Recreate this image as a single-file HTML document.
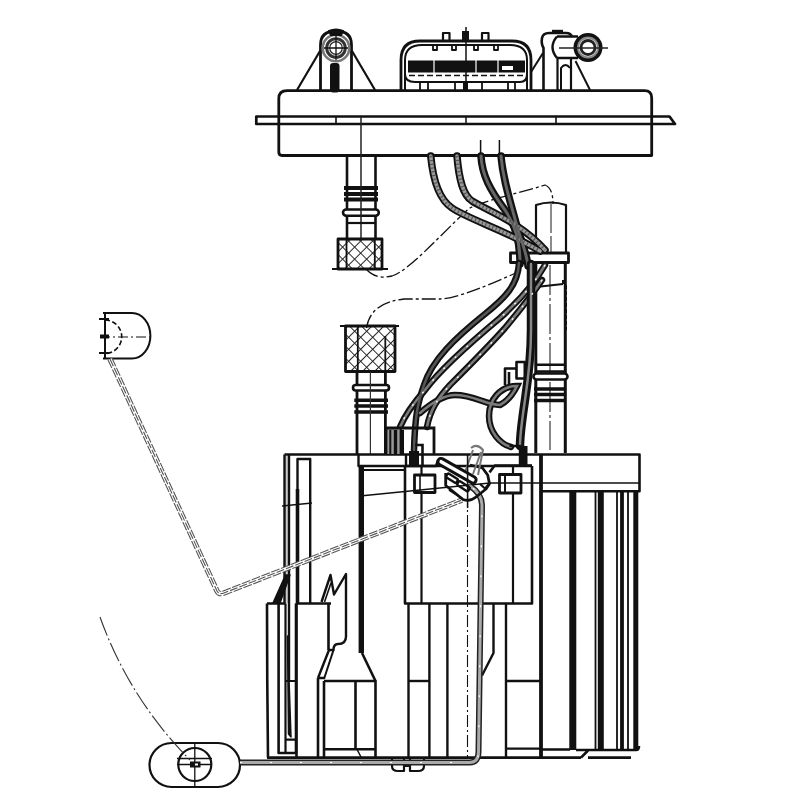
<!DOCTYPE html>
<html><head><meta charset="utf-8"><style>
html,body{margin:0;padding:0;background:#fff;width:800px;height:800px;overflow:hidden;font-family:"Liberation Sans",sans-serif;}
svg{display:block}
</style></head><body>
<svg width="800" height="800" viewBox="0 0 800 800">
<defs>
<pattern id="mesh" width="8.5" height="8.5" patternUnits="userSpaceOnUse" patternTransform="rotate(45)">
<path d="M0 0 H8.5 M0 0 V8.5" stroke="#222" stroke-width="2" fill="none"/>
</pattern>
</defs>
<rect width="800" height="800" fill="#fff"/>
<g fill="none" stroke="#111" stroke-width="2.6" stroke-linejoin="round">
<!-- FLANGE -->
<path d="M287 90.7 H644.5 Q651.7 90.7 651.7 98 V155.5 H282 Q278.8 155.5 278.8 152 V98.7 Q278.8 90.7 287 90.7 Z" stroke-width="2.8"/>
<path d="M256.3 116.5 H669.5 L675 124 H256.3 Z" stroke-width="2.7"/>
<path d="M336 117 V124 M556 117 V124" stroke-width="1.6"/>
<!-- center lines through flange -->
<path d="M466 27 V90 M466 117 V124" stroke-width="1.5"/>
<path d="M480.6 140 V156 M499.4 140 V156" stroke-width="1.5"/>
<!-- left bracket -->
<path d="M297 90 L320 51 M375 90 L352 51" stroke-width="2.2"/>
<path d="M320.5 90 V45 Q320.5 31 336 31 Q351.5 31 351.5 45 V90" stroke-width="2.8"/>
<circle cx="336" cy="48" r="13.3" stroke="#777" stroke-width="2.6"/>
<circle cx="336" cy="48" r="9.3" stroke="#333" stroke-width="3"/>
<circle cx="336" cy="48" r="6.3" stroke="#222" stroke-width="1.2"/>
<path d="M324 48 H348 M336 36 V60" stroke-width="1.3"/>
<path d="M329 31 Q336 28 343 31 L341 35 H331 Z" fill="#111" stroke-width="2"/>
<rect x="330" y="63" width="9.5" height="29.5" rx="3" fill="#111" stroke="none"/>
<!-- center connector -->
<path d="M401 90 V60 Q401 41 420 41 H512 Q531 41 531 60 V90" stroke-width="2.8"/>
<path d="M405 90 V74 Q405 82 415 82 H520 Q527 82 527 74 V90" stroke-width="2"/>
<path d="M405 74 V60 Q405 45 422 45 H510 Q527 45 527 60 V74" stroke-width="2"/>
<rect x="408" y="60.5" width="117" height="12" fill="#111" stroke="none"/>
<rect x="502" y="66" width="11" height="4" fill="#fff" stroke="none"/>
<path d="M434 60 V73 M476 60 V73 M498 60 V73" stroke="#fff" stroke-width="1.2"/>
<path d="M409 75.5 H525" stroke-width="1.3" stroke-dasharray="6 3"/>
<path d="M433 46 V50 H437 V46 M452 46 V50 H456 V46 M474 46 V50 H478 V46 M494 46 V50 H498 V46" stroke-width="1.8"/>
<path d="M443 41 V33 H449.5 V41" stroke-width="2.2"/>
<rect x="462" y="31" width="7" height="10" fill="#111" stroke="none"/>
<path d="M482 41 V33 H488.5 V41" stroke-width="2.2"/>
<path d="M420 82 V90 M428 82 V90 M455 82 V90 M482 82 V90 M508 82 V90 M515 82 V90" stroke-width="1.8"/>
<rect x="463" y="82" width="5" height="9" fill="#111" stroke="none"/>
<!-- right connector -->
<path d="M543.5 90 V48 Q541 44 542 38 Q543 33 549 33 H566 Q571 33 572 37" stroke-width="2.6"/>
<path d="M552 31 H563" stroke-width="2.4"/>
<path d="M557.5 58 V90 M571 58 V90" stroke-width="2.2"/>
<path d="M561 90 V68 Q565.5 62 570 68" stroke-width="2"/>
<path d="M543 53 L531 72" stroke-width="2"/>
<path d="M575.5 61 L590 90" stroke-width="2"/>
<path d="M557 36.5 H578 M557 58 H578" stroke-width="2.6"/>
<path d="M557 36.5 Q548 47 557 58" stroke-width="2.4"/>
<circle cx="588" cy="47.5" r="12.5" stroke-width="4"/>
<circle cx="588" cy="47.5" r="10" stroke="#888" stroke-width="2"/>
<circle cx="588" cy="47.5" r="7" stroke="#222" stroke-width="2.8"/>
<path d="M559 48 H608" stroke-width="1.3" stroke="#222"/>
<!-- LEFT PIPE upper -->
<path d="M347 156 V239 M375.5 156 V239"/>
<path d="M344 188 H378 M344 194 H378 M344 199.5 H378" stroke-width="3.8"/>
<rect x="343" y="209.5" width="35.8" height="6.2" rx="3.1" fill="#fff" stroke-width="2.6"/>
<path d="M361 117 V240" stroke-width="1.5" stroke="#222"/>
<path d="M347 223 H375.5" stroke-width="2.2"/>
<rect x="338" y="239" width="44" height="30" fill="url(#mesh)" stroke-width="2.8"/>
<path d="M346.5 240 V268 M374.8 240 V268" stroke-width="1.8"/>
<path d="M332 269 H388" stroke-width="2.2"/>
<!-- RIGHT TUBE -->
<path d="M536 253 V205 Q551 200 566 205 V253" stroke-width="2.2"/>
<path d="M551 203 V253" stroke-width="1.5" stroke="#666" stroke-dasharray="30 3"/>
<rect x="510.5" y="253" width="58" height="9.5" stroke-width="2.8"/>
<path d="M535.8 262.5 V453 M565.3 262.5 V453" stroke-width="3"/>
<path d="M550 265 V450" stroke-width="1.4" stroke="#555" stroke-dasharray="30 3 3 3"/>
<path d="M536 287 L563 284" stroke-width="2"/>
<path d="M563 280 V284 M566 285 V330" stroke-width="2" stroke-dasharray="4 2"/>
<path d="M536 364.8 H565.5 M536 371.5 H565.5" stroke-width="2.6"/>
<rect x="533.5" y="373.5" width="34" height="6" rx="3" fill="#fff" stroke-width="2.6"/>
<path d="M534 389 H566 M534 394.5 H566 M534 400.5 H566" stroke-width="3.4"/>
<!-- small connector on tube -->
<rect x="516.5" y="362" width="8.3" height="16.5" stroke-width="2.6"/>
<path d="M516.5 368.5 H505 V385 M509 372 V385 M524.8 368.5 H533" stroke-width="2.6"/>
<!-- LOWER PIPE -->
<rect x="345.5" y="326" width="49.5" height="45.5" fill="url(#mesh)" stroke-width="2.8"/>
<path d="M357.8 327 V370 M385.3 336 V370" stroke-width="1.8"/>
<path d="M340 326 H399" stroke-width="2.2"/>
<path d="M357 371.5 V454 M385.4 371.5 V454" stroke-width="2.8"/>
<rect x="353" y="385" width="36" height="5.5" rx="2.75" fill="#fff" stroke-width="2.6"/>
<path d="M354.3 400.3 H388 M354.3 406 H388 M354.3 412 H388" stroke-width="3.6"/>
<path d="M370.4 372 V454" stroke-width="1.2" stroke="#333"/>
<!-- MAIN BODY -->
<path d="M284.5 454.5 H639.5 V491.3 H541"/>
<path d="M541 454.5 V757" stroke-width="3.8"/>
<rect x="285" y="456" width="3.6" height="147" fill="#ccc" stroke="none"/>
<path d="M284.5 454.5 V603.5 M289 454.5 V681" stroke-width="2.4"/>
<path d="M297.5 603.5 V459 H310.2 V603.5" stroke-width="2.4"/>
<path d="M361.3 467 V653" stroke-width="5.4"/>
<path d="M358.5 454.5 V466 H405 M406 466 V454.5" stroke-width="2.4"/>
<path d="M363 470 H405" stroke-width="2.2"/>
<path d="M405 466 V603.5 H532 V466 M405 466 H532" stroke-width="2.6"/>
<path d="M421.5 466 V603.5 M513 466 V603.5" stroke-width="2.2"/>
<rect x="414.5" y="475" width="20.5" height="17.5" fill="#fff" stroke-width="2.8"/>
<path d="M420 475 V492.5" stroke-width="1.6"/>
<rect x="499.5" y="474.5" width="21.5" height="18.5" fill="#fff" stroke-width="2.8"/>
<path d="M505 475 V493" stroke-width="2"/>
<path d="M490 483 H639" stroke-width="1.6"/>
<path d="M467.5 455 V757" stroke-width="1.1" stroke-dasharray="12 3 2 3"/>
<!-- thin lines across body from float arm -->
<path d="M360 496 L490 483" stroke-width="1.5"/>
<path d="M282 506 L312 503" stroke-width="1.3"/>
<!-- right bars -->
<path d="M572.8 491 V750" stroke-width="7"/>
<path d="M600.8 491 V750" stroke-width="6"/>
<path d="M595.5 491 V750 M617 491 V750 M628 491 V750" stroke-width="1.8"/>
<path d="M622 491 V750" stroke-width="3.8"/>
<path d="M635.8 491 V750" stroke-width="5"/>
<path d="M541 749.5 H570 M576 750 H636 Q639 750 639 746" stroke-width="2.6"/>
<path d="M581 757.6 L588 750.5 M588 757.6 H631" stroke-width="2.6"/>
<!-- lower body left -->
<path d="M267 603.5 H285.5 M267 603.5 Q267 680 268 757.6 M278.6 603.5 V753 H296 V603.5" stroke-width="2.6"/>
<path d="M297.5 489 V603.5" stroke-width="3.6"/>
<path d="M285.5 603.5 V753 M285.5 681 H296 M285.5 739.6 H296" stroke-width="2.2"/>
<path d="M273 603 L285.5 575 L290 575 L280 603 Z" fill="#111" stroke-width="1.5"/>
<path d="M287.5 636 L288.5 734 L291 737 Z" fill="#111" stroke-width="1.5"/>
<path d="M296 603.5 H331 M296.5 603.5 V757.6 M328.5 603.5 V650" stroke-width="2.6"/>
<path d="M321.5 602 L330.5 575 L334 594.5 L346 574 V636.5 Q346 644 338 644 Q333.5 644 333.5 650 H329 L318 678" stroke-width="2.4"/>
<path d="M324.5 602 L331 583" stroke-width="1.6"/>
<path d="M318 678 V757.6 M324 681 V757.6" stroke-width="2.6"/>
<path d="M333.5 650 L324 679" stroke-width="2"/>
<path d="M318 678 H324 M324 681 H375.5 V757.6 M355.5 681 V749 M324 749.3 H375.5" stroke-width="2.6"/>
<path d="M362 653 L375.5 681" stroke-width="2.6"/>
<path d="M357 749.3 L361 757" stroke-width="1.5"/>
<!-- lower body center/right -->
<path d="M408.5 603.5 V757.6 M429.4 603.5 V757.6 M447.4 603.5 V757.6" stroke-width="2.4"/>
<path d="M408.5 681 H429.4" stroke-width="2.4"/>
<path d="M493.5 603.5 V653 L482 675.5" stroke-width="2.4"/>
<path d="M506 603.5 V757.6 M506 681 H541 M506 748.6 H541" stroke-width="2.4"/>
<path d="M267 757.6 H581" stroke-width="2.6"/>
<!-- bottom tabs -->
<path d="M392 758 V766 Q392 771 398 771 H404 V758 M410 758 V771 H418 Q424 771 424 766 V758" stroke-width="2.2"/>
<path d="M404 766 H410" stroke-width="2"/>
<!-- FLOAT TOP -->
<path d="M103 313 H132 A18.4 22.8 0 0 1 132 358.6 H103" stroke-width="2"/>
<path d="M105 313 V358.6" stroke-width="2"/>
<path d="M100 337 H150" stroke-width="1.2" stroke-dasharray="10 3 2 3"/>
<path d="M105 320 A16.6 16.6 0 0 1 105 353.5" stroke-width="1.6" stroke-dasharray="5 2.5"/>
<path d="M99 319 H109 M99 353 H109" stroke-width="1.8"/>
<rect x="100" y="334.5" width="9" height="4" fill="#111" stroke="none"/>
<!-- FLOAT ARM -->
<path d="M110 359 L217 591 Q219 595 224 593 L462 500" stroke-width="5.4" stroke="#555" stroke-dasharray="9 1.5"/>
<path d="M110 359 L217 591 Q219 595 224 593 L462 500" stroke-width="3.2" stroke="#fff"/>
<path d="M110 359 L217 591 Q219 595 224 593 L462 500" stroke-width="1.1" stroke="#555" stroke-dasharray="8 2"/>
<!-- FLOAT BOTTOM -->
<path d="M171.5 743 H218 A22 22 0 0 1 218 787 H171.5 A22 22 0 0 1 171.5 743 Z" stroke-width="2.2"/>
<circle cx="194.8" cy="764.5" r="16.5" stroke-width="2.2"/>
<path d="M177 758.5 H212 M177 764.5 H212 M194.8 744 V786" stroke-width="1.3"/>
<rect x="190" y="761.5" width="10.5" height="6" fill="#111" stroke="none"/>
<rect x="195" y="763.5" width="3" height="2" fill="#fff" stroke="none"/>
<path d="M240 762.5 H470 Q478.5 762 478.5 752 L482 505 Q482 494 469.5 485.5" stroke-width="6" stroke="#222"/>
<path d="M240 762.5 H470 Q478.5 762 478.5 752 L482 505 Q482 494 469.5 485.5" stroke-width="3" stroke="#aaa"/>
<path d="M240 762.5 H470 Q478.5 762 478.5 752 L482 505 Q482 494 469.5 485.5" stroke-width="1.2" stroke="#fff" stroke-dasharray="2 28"/>
<!-- ARC -->
<path d="M100 617 A388 388 0 0 0 190 760" stroke-width="1.1" stroke="#333" stroke-dasharray="20 3 2 3"/>
<!-- dashed curves near hoses -->
<path d="M366 269 Q376 280 392 276 C410 270 440 235 469 208.5 C485 200 520 193 545 185 Q553 188 553 204" stroke-width="1.3" stroke-dasharray="14 3 3 3"/>
<path d="M366.6 328 Q370 303 404 299 H440 C455 299 490 285 520 271" stroke-width="1.3" stroke-dasharray="14 3 3 3"/>
<!-- PIVOT -->
<path d="M445.7 473 V485.5 L463 499.5 Q470 502 476 497 L486 489 L489.5 483.7 L487.7 475 L482.5 468 L470 465" stroke-width="2.8"/>
<path d="M480 484 L485 488.5 L489 484" stroke-width="2.2"/>
<path d="M489.5 472.4 L494.7 465.5 H532" stroke-width="2.6"/>
<path d="M405 466 H436 L438 460" stroke-width="2.4"/>
<path d="M471 448 Q477 443 483 450 L478 475 M473 450 L465 472 M481 452 L473 474" stroke="#777" stroke-width="2"/>
<rect x="435.5" y="467.5" width="43" height="6.5" rx="3.2" transform="rotate(29.7 457 470.75)" fill="#fff" stroke-width="3"/>
<rect x="446" y="476" width="12" height="4.5" rx="1" transform="rotate(33 452 478.25)" stroke-width="2.4"/>
<rect x="457" y="484" width="13" height="4.5" rx="1" transform="rotate(33 463.5 486.25)" stroke-width="2.4"/>
<path d="M449 490 L463 499" stroke-width="1.8"/>
<path d="M467.6 454 V508" stroke-width="1.5"/>
</g>
<!-- HOSES -->
<g fill="none" stroke-linecap="round">
<g stroke="#111" stroke-width="7.5">
<path id="h1" d="M430.75 156 C433 180 440 200 452 208 C470 220 505 230 540 251"/>
<path id="h2" d="M457 156 C459 180 463 195 472 201 C490 212 520 222 545 250"/>
<path id="h3" d="M481 156 C482 175 490 190 505 210 C515 225 520 240 520 264"/>
<path id="h4" d="M501 156 C503 180 510 200 518 230 C523 245 527 255 528 266"/>
</g>
<g stroke="#9a9a9a" stroke-width="3.6">
<use href="#h1"/><use href="#h2"/>
</g>
<g stroke="#666" stroke-width="3">
<use href="#h3"/><use href="#h4"/>
</g>
<g stroke="#555" stroke-width="3.6" stroke-dasharray="1.2 2.6" stroke-linecap="butt">
<use href="#h1"/><use href="#h2"/>
</g>
<g stroke="#111" stroke-width="6.5">
<path id="h5" d="M519 263 C518 285 505 298 485 314 C455 338 432 360 424 385 C418 402 415 415 414 450"/>
<path id="h6" d="M545 265 C535 283 520 300 500 318 C470 343 440 370 425 390 C412 405 405 415 400 427"/>
<path id="h7" d="M542 280 C532 295 520 310 505 328 C490 345 470 365 450 385 C438 398 430 410 427 427"/>
<path id="h8" d="M420 413 C435 400 445 395 455 395 C475 395 485 405 500 405 C510 400 515 390 517 386 C500 386 489 400 489 416 C489 432 500 444 511 447"/>

</g>
<g stroke="#7a7a7a" stroke-width="2.6">
<use href="#h6"/><use href="#h7"/><use href="#h8"/>
</g>
<path id="h9" d="M531 264 V330 C531 360 528 380 525 400 C522 420 520 435 520 446" stroke="#111" stroke-width="8.5"/>
<path d="M531 264 V330 C531 360 528 380 525 400 C522 420 520 435 520 446" stroke="#888" stroke-width="2.5"/>
<g stroke="#555" stroke-width="2.5">
<use href="#h5"/>
</g>
<g stroke="#eee" stroke-width="1.5" stroke-dasharray="2 14" stroke-linecap="butt">
<use href="#h6"/><use href="#h7"/>
</g>
</g>
<g fill="none" stroke="#111" stroke-width="2.6">
<!-- hose end connectors -->
<rect x="386" y="428" width="8" height="26" fill="#999" stroke="none"/>
<rect x="394" y="428" width="6" height="26" fill="#999" stroke="none"/>
<path d="M386 454 V428 H434 V454" stroke-width="2.8"/>
<path d="M390.3 430 V454" stroke-width="2"/>
<path d="M395.5 430 V454" stroke-width="3.4"/>
<path d="M401.8 430 V454" stroke-width="4.4"/>
<rect x="409" y="451" width="10" height="14.5" fill="#111" stroke="none"/>
<path d="M415 445 H422.5 V466" stroke-width="2.6"/>
<path d="M509.5 446 H520 V466" stroke-width="2.4"/>
<rect x="519" y="446" width="8.5" height="19" fill="#111" stroke="none"/>
</g>
</svg>
</body></html>
